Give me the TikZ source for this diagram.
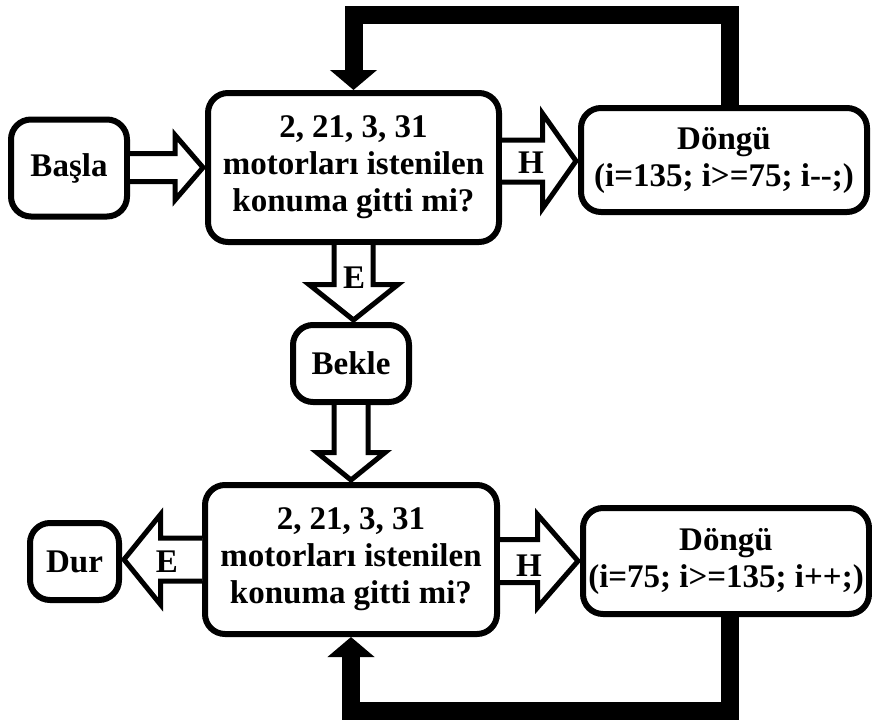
\documentclass[tikz,border=0pt]{standalone}
\usepackage{fontspec}
\setmainfont{Liberation Serif}
\usepackage{tikz}
\usetikzlibrary{arrows.meta,calc}

\begin{document}
\begin{tikzpicture}[x=1pt,y=-1pt,
  kutu/.style={draw,line width=6pt,rounded corners=20pt,inner sep=0pt,align=center,
    font=\bfseries\fontsize{33}{37}\selectfont,fill=white},
  bosok/.style={draw,line width=5pt,fill=white,line join=miter},
  donus/.style={draw,line width=18pt,-{Triangle[width=46pt,length=20pt]}},
  etiket/.style={inner sep=0pt,font=\bfseries\fontsize{33}{37}\selectfont}]
\useasboundingbox (0,0) rectangle (872,720);
\node[kutu,minimum width=116pt,minimum height=97pt] (basla)  at (69,168)    {Başla};
\node[kutu,minimum width=291pt,minimum height=149pt] (soru1) at (353.5,167.5) {2, 21, 3, 31\\motorları istenilen\\konuma gitti mi?};
\node[kutu,minimum width=286pt,minimum height=104pt] (dongu1) at (724,160)  {Döngü\\(i=135; i>=75; i-{}-;)};
\node[kutu,minimum width=116pt,minimum height=77pt] (bekle)  at (351,363.5) {Bekle};
\node[kutu,minimum width=292pt,minimum height=149pt] (soru2) at (351,559.5) {2, 21, 3, 31\\motorları istenilen\\konuma gitti mi?};
\node[kutu,minimum width=89pt,minimum height=77pt] (dur)     at (74.5,561.5) {Dur};
\node[kutu,minimum width=286pt,minimum height=106pt] (dongu2) at (726,561)  {Döngü\\(i=75; i>=135; i++;)};
% bos oklar
\draw[bosok] ($(basla.east |- soru1.west)+(0,-14)$) -- ($(soru1.west)+(-30,-14)$) -- ($(soru1.west)+(-30,-32.5)$)
  -- ($(soru1.west)+(-2,0)$) -- ($(soru1.west)+(-30,32.5)$) -- ($(soru1.west)+(-30,14)$) -- ($(basla.east |- soru1.west)+(0,14)$);
\draw[bosok] ($(soru1.east |- dongu1.west)+(0,-20)$) -- ($(dongu1.west)+(-35.5,-20)$) -- ($(dongu1.west)+(-35.5,-46.5)$)
  -- ($(dongu1.west)+(-2,1)$) -- ($(dongu1.west)+(-35.5,48.5)$) -- ($(dongu1.west)+(-35.5,22)$) -- ($(soru1.east |- dongu1.west)+(0,22)$);
\draw[bosok] ($(soru1.south)+(-19.5,0)$) -- ($(soru1.south |- bekle.north)+(-19.5,-37.5)$) -- ($(soru1.south |- bekle.north)+(-44.5,-37.5)$)
  -- ($(soru1.south |- bekle.north)+(0,-2)$) -- ($(soru1.south |- bekle.north)+(44.5,-37.5)$) -- ($(soru1.south |- bekle.north)+(19.5,-37.5)$) -- ($(soru1.south)+(19.5,0)$);
\draw[bosok] ($(bekle.south)+(-17,0)$) -- ($(soru2.north)+(-17,-29.5)$) -- ($(soru2.north)+(-34,-29.5)$)
  -- ($(soru2.north)+(0,-2)$) -- ($(soru2.north)+(34,-29.5)$) -- ($(soru2.north)+(17,-29.5)$) -- ($(bekle.south)+(17,0)$);
\draw[bosok] ($(soru2.west)+(0,-21.5)$) -- ($(dur.east |- soru2.west)+(38.5,-21.5)$) -- ($(dur.east |- soru2.west)+(38.5,-45)$)
  -- ($(dur.east |- soru2.west)+(2,0)$) -- ($(dur.east |- soru2.west)+(38.5,45)$) -- ($(dur.east |- soru2.west)+(38.5,21.5)$) -- ($(soru2.west)+(0,21.5)$);
\draw[bosok] ($(soru2.east |- dongu2.west)+(0,-21.5)$) -- ($(dongu2.west)+(-42.5,-21.5)$) -- ($(dongu2.west)+(-42.5,-46.5)$)
  -- ($(dongu2.west)+(-2,0)$) -- ($(dongu2.west)+(-42.5,46.5)$) -- ($(dongu2.west)+(-42.5,21.5)$) -- ($(soru2.east |- dongu2.west)+(0,21.5)$);
% etiketler
\node[etiket] (e1) at (354,278) {E};
\node[etiket] (h1) at (531,163) {H};
\node[etiket] (e2) at (167,562) {E};
\node[etiket] (h2) at (529,566) {H};
% geri donus
\draw[donus] ($(dongu1.north)+(6,0)$) |- ($(soru1.north)+(0,-75)$) -- (soru1.north);
\draw[donus] ($(dongu2.south)+(4,0)$) |- ($(soru2.south)+(0,74)$) -- (soru2.south);
\end{tikzpicture}
\end{document}
